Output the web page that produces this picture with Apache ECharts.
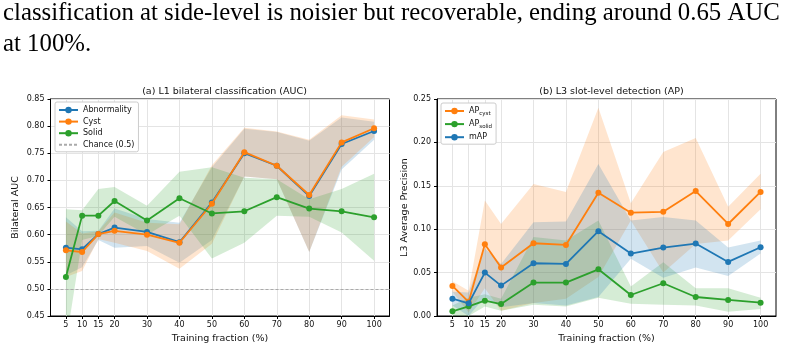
<!DOCTYPE html>
<html><head><meta charset="utf-8">
<script src="https://cdn.jsdelivr.net/npm/echarts@6/dist/echarts.min.js"></script>
<style>html,body{margin:0;padding:0;background:#fff}#c{width:787px;height:350px}</style>
</head><body><div id="c"></div>
<script>
// ---------- data ----------
const fractions = [5, 10, 15, 20, 30, 40, 50, 60, 70, 80, 90, 100];
const xTickValues = [5, 10, 15, 20, 30, 40, 50, 60, 70, 80, 90, 100];
const chanceLevel = 0.5;

// (a) L1 bilateral classification (AUC)
const abnMean = [0.576, 0.573, 0.601, 0.613, 0.605, 0.586, 0.659, 0.750, 0.727, 0.671, 0.767, 0.791];
const abnLo   = [0.525, 0.540, 0.590, 0.576, 0.579, 0.548, 0.590, 0.707, 0.702, 0.568, 0.720, 0.775];
const abnHi   = [0.632, 0.606, 0.607, 0.648, 0.629, 0.622, 0.724, 0.795, 0.789, 0.773, 0.816, 0.808];
const cystMean = [0.571, 0.568, 0.601, 0.607, 0.600, 0.585, 0.657, 0.752, 0.727, 0.673, 0.770, 0.796];
const cystLo   = [0.522, 0.533, 0.592, 0.585, 0.570, 0.537, 0.583, 0.707, 0.702, 0.568, 0.725, 0.780];
const cystHi   = [0.624, 0.602, 0.606, 0.641, 0.622, 0.619, 0.728, 0.797, 0.790, 0.775, 0.820, 0.812];
const solidMean = [0.522, 0.635, 0.635, 0.662, 0.626, 0.667, 0.639, 0.643, 0.669, 0.648, 0.643, 0.632];
const solidLo   = [0.400, 0.590, 0.598, 0.633, 0.600, 0.635, 0.556, 0.585, 0.635, 0.633, 0.604, 0.552];
const solidHi   = [0.647, 0.645, 0.684, 0.688, 0.653, 0.716, 0.724, 0.705, 0.702, 0.665, 0.684, 0.712];

// (b) L3 slot-level detection (AP)
const apCyst   = [0.0346, 0.0162, 0.0827, 0.0558, 0.0838, 0.0819, 0.142, 0.119, 0.120, 0.144, 0.106, 0.143];
const apCystLo = [0.028, 0.004, 0.032, 0.006, 0.015, 0.020, 0.045, 0.110, 0.050, 0.083, 0.087, 0.123];
const apCystHi = [0.040, 0.029, 0.133, 0.106, 0.152, 0.143, 0.240, 0.130, 0.189, 0.205, 0.126, 0.164];
const apSolid   = [0.0054, 0.0112, 0.0177, 0.0138, 0.0385, 0.0385, 0.0538, 0.0242, 0.0377, 0.0219, 0.0185, 0.0154];
const apSolidLo = [0.000, 0.000, 0.011, 0.006, 0.013, 0.011, 0.021, 0.014, 0.013, 0.012, 0.005, 0.008];
const apSolidHi = [0.012, 0.021, 0.025, 0.020, 0.091, 0.087, 0.110, 0.034, 0.062, 0.032, 0.032, 0.021];
const mAP   = [0.020, 0.0146, 0.050, 0.035, 0.0608, 0.060, 0.0977, 0.0719, 0.0788, 0.0835, 0.0623, 0.0792];
const mAPLo = [0.012, 0.000, 0.022, 0.010, 0.015, 0.012, 0.022, 0.066, 0.044, 0.056, 0.046, 0.072];
const mAPHi = [0.028, 0.027, 0.078, 0.060, 0.108, 0.109, 0.175, 0.110, 0.114, 0.110, 0.079, 0.087];

const headerLines = [
  'classification at side-level is noisier but recoverable, ending around 0.65 AUC',
  'at 100%.'
];
const titles = ['(a) L1 bilateral classification (AUC)', '(b) L3 slot-level detection (AP)'];

// ---------- styling ----------
const C_BLUE = '#1f77b4', C_ORANGE = '#ff7f0e', C_GREEN = '#2ca02c';
const FONT = 'DejaVu Sans';
const TXT = '#111';

function pts(vals) { return fractions.map((x, i) => [x, vals[i]]); }

function bandSeries(lo, hi, color, gi) {
  return {
    type: 'custom', xAxisIndex: gi, yAxisIndex: gi, clip: true, silent: true, z: 1,
    animation: false,
    data: fractions.map((x, i) => [x, lo[i], hi[i]]),
    encode: { x: 0, y: [1, 2] },
    renderItem: function (params, api) {
      if (params.dataIndex !== 0) return;
      const upper = fractions.map((x, i) => api.coord([x, hi[i]]));
      const lower = fractions.map((x, i) => api.coord([x, lo[i]])).reverse();
      return { type: 'polygon', shape: { points: upper.concat(lower) },
        style: { fill: color, opacity: 0.2 } };
    }
  };
}
function lineSeries(name, vals, color, gi, z) {
  return { type: 'line', name: name, xAxisIndex: gi, yAxisIndex: gi, data: pts(vals),
    symbol: 'circle', symbolSize: 6, color: color,
    itemStyle: { color: color }, lineStyle: { color: color, width: 1.8 },
    z: z, animation: false };
}

const grids = [
  { left: 50.5, top: 99, width: 339, height: 217 },
  { left: 437, top: 99, width: 339, height: 217 }
];

function xAxisCfg(gi) {
  return {
    type: 'value', gridIndex: gi, min: 0.25, max: 104.75,
    name: 'Training fraction (%)', nameLocation: 'middle', nameGap: 16,
    nameTextStyle: { fontFamily: FONT, fontSize: 9.5, color: TXT },
    axisLine: { show: true, onZero: false, lineStyle: { color: '#000', width: 1 } },
    axisTick: { show: true, length: 3, customValues: xTickValues, lineStyle: { color: '#000' } },
    axisLabel: { customValues: xTickValues, margin: 5, fontFamily: FONT, fontSize: 8, color: TXT },
    splitLine: { show: true, lineStyle: { color: '#e4e4e4', width: 1 } }
  };
}
function yAxisCfg(gi, min, max, name, gap) {
  return {
    type: 'value', gridIndex: gi, min: min, max: max, interval: 0.05,
    name: name, nameLocation: 'middle', nameGap: gap,
    nameTextStyle: { fontFamily: FONT, fontSize: 9.5, color: TXT },
    axisLine: { show: true, onZero: false, lineStyle: { color: '#000', width: 1 } },
    axisTick: { show: true, length: 3, lineStyle: { color: '#000' } },
    axisLabel: { margin: 6, fontFamily: FONT, fontSize: 8, color: TXT, formatter: v => v.toFixed(2) },
    splitLine: { show: true, lineStyle: { color: '#e4e4e4', width: 1 } }
  };
}

const series = [
  bandSeries(abnLo, abnHi, C_BLUE, 0),
  bandSeries(cystLo, cystHi, C_ORANGE, 0),
  bandSeries(solidLo, solidHi, C_GREEN, 0),
  lineSeries('Abnormality', abnMean, C_BLUE, 0, 3),
  lineSeries('Cyst', cystMean, C_ORANGE, 0, 4),
  lineSeries('Solid', solidMean, C_GREEN, 0, 5),
  { type: 'line', name: 'Chance (0.5)', xAxisIndex: 0, yAxisIndex: 0, data: [],
    symbol: 'none', color: '#aaaaaa',
    lineStyle: { color: '#aaaaaa', width: 1, type: [3, 2] },
    markLine: { silent: true, symbol: 'none', label: { show: false },
      lineStyle: { color: '#aaaaaa', width: 1, type: [3, 2] },
      data: [{ yAxis: chanceLevel }] }, z: 2, animation: false },
  bandSeries(apCystLo, apCystHi, C_ORANGE, 1),
  bandSeries(apSolidLo, apSolidHi, C_GREEN, 1),
  bandSeries(mAPLo, mAPHi, C_BLUE, 1),
  lineSeries('APcyst', apCyst, C_ORANGE, 1, 3),
  lineSeries('APsolid', apSolid, C_GREEN, 1, 4),
  lineSeries('mAP', mAP, C_BLUE, 1, 5)
];

const legendCommon = {
  orient: 'vertical', backgroundColor: '#fff', borderColor: '#cccccc', borderWidth: 1,
  borderRadius: 2, itemWidth: 19, itemHeight: 8, itemGap: 3.6, padding: [4, 4, 3, 3],
  textStyle: { fontFamily: FONT, fontSize: 8, color: TXT }, selectedMode: false
};

const option = {
  backgroundColor: '#fff',
  animation: false,
  title: [
    { text: titles[0], left: 219.5, top: 82, textAlign: 'center',
      textStyle: { fontFamily: FONT, fontSize: 9.5, fontWeight: 'normal', color: TXT } },
    { text: titles[1], left: 606.5, top: 82, textAlign: 'center',
      textStyle: { fontFamily: FONT, fontSize: 9.5, fontWeight: 'normal', color: TXT } }
  ],
  graphic: headerLines.map((t, i) => ({
    type: 'text', left: 3, top: 1 + i * 31,
    style: { text: t, font: '24.8px "Liberation Serif"', fill: '#000' }
  })),
  legend: [
    Object.assign({}, legendCommon, { left: 55, top: 102,
      data: ['Abnormality', 'Cyst', 'Solid',
        { name: 'Chance (0.5)', itemStyle: { color: 'rgba(0,0,0,0)', borderColor: 'rgba(0,0,0,0)', borderWidth: 0 } }] }),
    Object.assign({}, legendCommon, { left: 441, top: 103,
      data: ['APcyst', 'APsolid', 'mAP'],
      formatter: n => n === 'APcyst' ? '{m|AP}{s|cyst}' : n === 'APsolid' ? '{m|AP}{s|solid}' : '{m|' + n + '}',
      textStyle: { fontFamily: FONT, fontSize: 8, color: TXT,
        rich: { m: { fontFamily: FONT, fontSize: 8, color: TXT },
                s: { fontFamily: FONT, fontSize: 5.5, color: TXT, padding: [5, 0, 0, 0] } } } })
  ],
  grid: grids.map(g => Object.assign({ show: true, borderColor: '#000', borderWidth: 1, backgroundColor: 'transparent' }, g)),
  xAxis: [xAxisCfg(0), xAxisCfg(1)],
  yAxis: [yAxisCfg(0, 0.45, 0.85, 'Bilateral AUC', 29.5), yAxisCfg(1, 0, 0.25, 'L3 Average Precision', 27.5)],
  series: series
};

const chart = echarts.init(document.getElementById('c'), null, { renderer: 'canvas' });
chart.setOption(option);
</script>
</body></html>
